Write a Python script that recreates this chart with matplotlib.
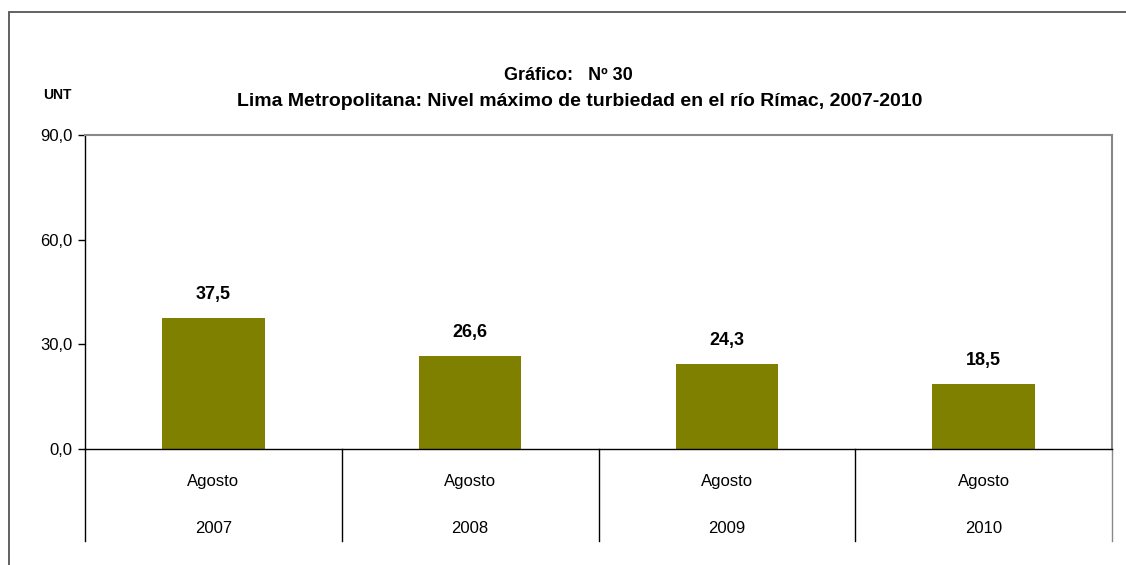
import matplotlib
matplotlib.use("Agg")
import matplotlib.pyplot as plt
from matplotlib.patches import Rectangle
from matplotlib import font_manager

# datos
meses = ["Agosto", "Agosto", "Agosto", "Agosto"]
anios = ["2007", "2008", "2009", "2010"]
turbiedad = [37.5, 26.6, 24.3, 18.5]
yticks = [0, 30, 60, 90]

nombres = {f.name for f in font_manager.fontManager.ttflist}
fuente = "Liberation Sans Narrow" if "Liberation Sans Narrow" in nombres else "Liberation Sans"
plt.rcParams["font.family"] = [fuente, "DejaVu Sans"]

fig = plt.figure(figsize=(11.26, 5.65), dpi=100)
ax = fig.add_axes([85 / 1126, 1 - 449 / 565, (1112 - 85) / 1126, (449 - 135) / 565])

# marco exterior
fig.patches.append(Rectangle((9 / 1126, -0.1), 1.2, 1 - 12 / 565 + 0.1,
                             transform=fig.transFigure, fill=False,
                             edgecolor="#555555", linewidth=1.3))

x = list(range(len(turbiedad)))
ax.bar(x, turbiedad, width=0.4, color="#808000", zorder=2)
for xi, v in zip(x, turbiedad):
    ax.annotate(f"{v:.1f}".replace(".", ","), (xi, v), xytext=(0, 11),
                textcoords="offset points", ha="center", va="bottom",
                fontsize=13, fontweight="bold")

ax.set_xlim(-0.5, len(x) - 0.5)
ax.set_ylim(0, 90)
ax.set_yticks(yticks)
ax.set_yticklabels([f"{t:.1f}".replace(".", ",") for t in yticks], fontsize=12)
ax.tick_params(axis="y", direction="out", length=5, width=1, pad=4)
ax.set_xticks([])

for s in ["top", "right"]:
    ax.spines[s].set_color("#888888")
    ax.spines[s].set_linewidth(1.5)
for s in ["left", "bottom"]:
    ax.spines[s].set_color("black")
    ax.spines[s].set_linewidth(1)

# eje de categorias en dos niveles
tr = ax.get_xaxis_transform()
for i in range(len(x) + 1):
    c = "#888888" if i == len(x) else "black"
    ax.plot([i - 0.5, i - 0.5], [0, -0.293], color=c, lw=1, transform=tr, clip_on=False)
for xi, m, a in zip(x, meses, anios):
    ax.text(xi, -0.105, m, transform=tr, ha="center", va="center", fontsize=12)
    ax.text(xi, -0.252, a, transform=tr, ha="center", va="center", fontsize=12)

fig.text(568 / 1126, 1 - 75 / 565, "Gráfico:   Nº 30", ha="center", va="center",
         fontsize=13, fontweight="bold")
fig.text(580 / 1126, 1 - 102 / 565,
         "Lima Metropolitana: Nivel máximo de turbiedad en el río Rímac, 2007-2010",
         ha="center", va="center", fontsize=14, fontweight="bold")
fig.text(57 / 1126, 1 - 95 / 565, "UNT", ha="center", va="center",
         fontsize=10, fontweight="bold")

fig.savefig("out.png", dpi=100)
